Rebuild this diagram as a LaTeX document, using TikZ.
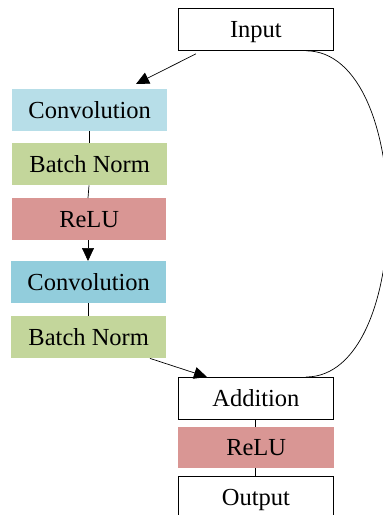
\documentclass[tikz,border=0pt]{standalone}
\usepackage{fontspec}
\setmainfont{Liberation Serif}
\usetikzlibrary{arrows.meta,calc}
\definecolor{convA}{HTML}{B7DEE8}
\definecolor{convB}{HTML}{92CDDC}
\definecolor{bnC}{HTML}{C3D69B}
\definecolor{reluC}{HTML}{D99694}
\begin{document}
\begin{tikzpicture}[x=1pt,y=-1pt,
  blk/.style={anchor=north west,minimum width=155pt,minimum height=42pt,inner sep=0pt,text height=16.2pt,text depth=0pt,font=\fontsize{24.5}{28}\selectfont},
  wbox/.style={blk,draw=black,line width=0.8pt,fill=white},
  conn/.style={line width=0.7pt},
  arr/.style={line width=0.7pt,-{Triangle[length=13pt,width=12pt]}}]
\useasboundingbox (0,0) rectangle (383,515);
\node[wbox] (in) at (178,8) {Input};
\node[blk,fill=convA] (c1) at (12,89) {Convolution};
\node[blk,fill=bnC] (b1) at (12,143) {Batch Norm};
\node[blk,fill=reluC,minimum width=154pt] (r1) at (12,198) {ReLU};
\node[blk,fill=convB] (c2) at (11,261) {Convolution};
\node[blk,fill=bnC] (b2) at (11,316) {Batch Norm};
\node[wbox] (add) at (178,377) {Addition};
\node[blk,fill=reluC,minimum width=156pt,minimum height=41pt] (r2) at (178,427) {ReLU};
\node[wbox] (out) at (178,476) {Output};
\draw[conn] (c1.south -| 89,0) -- (b1.north -| 89,0);
\draw[conn] (b1.south -| 89,0) -- (r1.north -| 88,0);
\draw[arr] (r1.south -| 88,0) -- (c2.north -| 88,0);
\draw[conn] (c2.south -| 88,0) -- (b2.north -| 88,0);
\draw[conn] (add.south -| 255,0) -- (r2.north -| 255,0);
\draw[conn] (r2.south -| 255,0) -- (out.north -| 255,0);
\draw[arr] ([xshift=18pt,yshift=-3pt]in.south west) -- ([xshift=124pt,yshift=5pt]c1.north west);
\draw[arr] ([xshift=139pt]b2.south west) -- ([xshift=29pt]add.north west);
\draw[conn] ([xshift=-28pt]in.south east) to[out=0,in=0,looseness=0.86] ([xshift=-28pt]add.north east);
\end{tikzpicture}
\end{document}
